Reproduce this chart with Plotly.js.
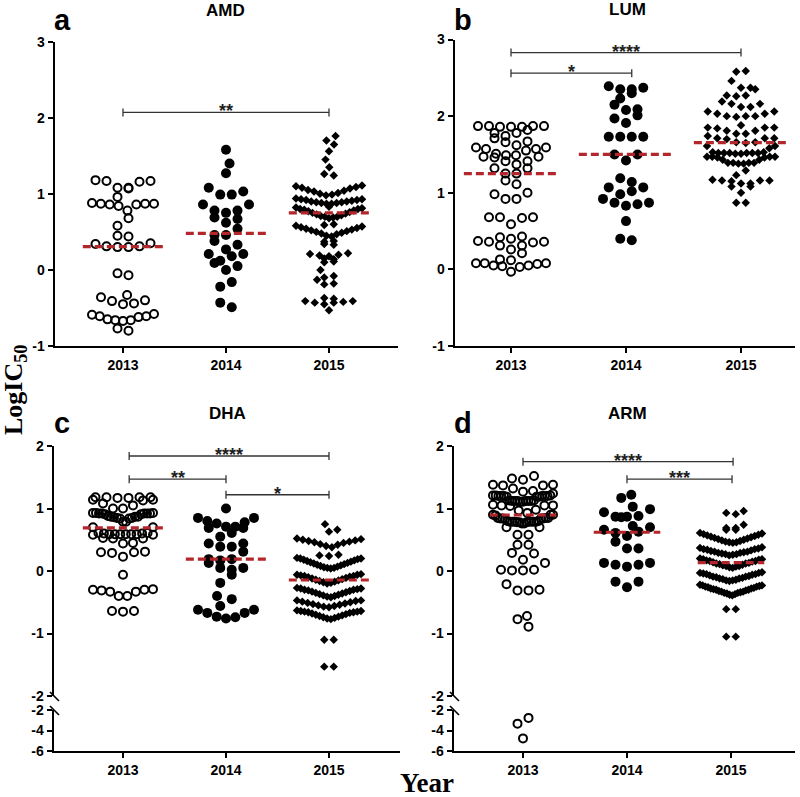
<!DOCTYPE html>
<html><head><meta charset="utf-8">
<script src="https://cdn.plot.ly/plotly-3.0.1.min.js"></script>
<style>html,body{margin:0;padding:0;background:#fff}#chart{width:800px;height:797px}</style>
</head><body><div id="chart"></div>
<script>
// ---------------- DATA ----------------
const years = ['2013','2014','2015'];
const panelTitles = ['AMD','LUM','DHA','ARM'];
const panelLetters = ['a','b','c','d'];
const yTicksTop = [-1,0,1,2,3];
const yTicksUpper = [-2,-1,0,1,2];
const yTicksLower = [-6,-4,-2];

const amd2013 = [1.17,1.18,1.17,1.16,1.08,1.07,1.08,0.96,0.87,0.86,0.87,0.88,0.87,0.86,0.84,0.78,0.68,0.58,0.45,0.44,0.35,0.34,0.31,0.30,0.30,0.31,-0.045,-0.07,-0.36,-0.33,-0.40,-0.41,-0.45,-0.44,-0.58,-0.59,-0.61,-0.62,-0.61,-0.66,-0.67,-0.66,-0.65,-0.77,-0.80];
const amd2014 = [1.58,1.40,1.27,1.08,0.99,0.99,1.03,0.86,0.86,0.78,0.78,0.75,0.69,0.67,0.62,0.54,0.46,0.46,0.38,0.33,0.27,0.21,0.21,0.18,0.12,0.09,0.05,0.00,-0.16,-0.22,-0.43,-0.49];
const amd2015 = [1.76,1.70,1.65,1.56,1.45,1.35,1.26,1.24,
 1.11,1.10,1.09,1.08,1.07,1.05,1.04,1.03,1.01,1.00,0.99,0.98,
 0.94,0.93,0.93,0.92,0.92,0.91,0.90,0.90,0.89,0.89,0.88,0.88,0.87,0.87,
 0.83,0.82,0.81,0.80,0.80,0.79,0.78,0.77,0.76,0.75,0.74,0.73,0.72,0.71,0.70,0.70,0.69,0.68,
 0.60,0.59,0.58,0.57,0.56,0.55,0.54,0.53,0.52,0.51,0.50,0.49,0.48,0.47,
 0.45,0.44,0.38,0.37,0.34,0.33,0.22,0.21,0.20,0.19,0.18,0.15,0.14,0.11,0.10,0.00,
 -0.08,-0.10,-0.13,-0.18,-0.19,-0.37,-0.38,-0.41,-0.41,-0.42,-0.43,-0.43,-0.45,-0.53];

const lum2013 = [1.87,1.87,1.86,1.86,1.87,1.86,1.87,1.82,1.78,1.78,1.74,1.71,1.67,1.66,1.62,1.59,1.59,1.57,1.57,1.55,1.51,1.49,1.49,1.47,1.47,1.46,1.41,1.41,1.37,1.32,1.32,1.25,1.25,1.16,1.11,1.00,0.98,0.92,0.92,0.68,0.68,0.68,0.67,0.59,0.43,0.42,0.40,0.37,0.36,0.36,0.35,0.31,0.31,0.26,0.21,0.13,0.12,0.08,0.08,0.07,0.08,0.05,0.04,0.05,0.03,-0.03];
const lum2014 = [2.39,2.37,2.35,2.35,2.30,2.23,2.15,2.09,2.08,2.01,1.97,1.91,1.73,1.73,1.73,1.73,1.50,1.50,1.42,1.19,1.14,1.07,1.07,1.02,0.98,0.92,0.87,0.87,0.85,0.83,0.63,0.40,0.38];
const lum2015 = [2.59,2.58,2.46,2.37,2.37,2.35,2.27,2.26,2.27,2.19,2.16,2.16,2.12,2.12,2.06,2.06,2.03,2.03,2.00,2.00,1.99,2.00,1.88,1.85,1.85,1.85,1.84,1.81,1.81,1.77,1.77,1.74,1.71,1.71,1.70,1.71,1.66,1.66,1.65,1.61,1.61,1.58,1.52,1.52,1.53,1.52,1.51,1.52,1.52,1.53,1.52,1.51,1.47,1.47,1.46,1.47,1.47,1.46,1.43,1.43,1.39,1.39,1.38,1.39,1.39,1.38,1.29,1.23,1.16,1.16,1.17,1.16,1.15,1.12,1.12,1.08,1.08,1.00,0.87,0.87];

const dha2013 = [1.18,1.18,1.17,1.18,1.17,1.18,1.14,1.14,1.13,1.08,1.05,1.00,1.00,
 0.93,0.92,0.92,0.91,0.92,0.93,0.92,0.91,0.92,0.93,
 0.87,0.87,0.88,0.87,0.86,
 0.84,0.84,0.85,0.85,0.79,0.79,0.70,0.70,0.61,0.61,
 0.59,0.59,0.58,0.59,0.60,0.59,0.58,0.59,0.60,0.59,
 0.52,0.52,0.53,0.45,0.44,0.30,0.29,0.30,0.31,0.23,-0.06,
 -0.30,-0.30,-0.29,-0.31,-0.33,-0.33,-0.40,-0.40,-0.64,-0.64,-0.65];
const dha2014 = [1.00,0.85,0.85,0.80,0.78,0.76,0.71,0.71,0.69,0.69,0.61,0.55,0.44,0.44,0.39,0.39,0.31,0.19,0.19,0.17,0.13,0.05,0.05,0.02,-0.06,-0.19,-0.40,-0.45,-0.56,-0.62,-0.62,-0.67,-0.67,-0.73,-0.74,-0.76];
const dha2015 = [0.75,0.66,0.63,
 0.52,0.51,0.50,0.49,0.48,0.47,0.46,0.45,0.43,0.42,0.40,0.38,
 0.26,0.25,0.24,
 0.21,0.20,0.20,0.19,0.18,0.17,0.16,0.15,0.14,0.13,0.12,0.11,0.10,0.09,0.08,0.07,0.06,0.05,0.05,0.04,
 -0.05,-0.06,-0.06,-0.07,-0.08,-0.08,-0.09,-0.10,-0.11,-0.12,-0.13,-0.14,-0.15,-0.16,-0.17,-0.18,-0.19,-0.20,
 -0.27,-0.28,-0.28,-0.29,-0.30,-0.30,-0.31,-0.32,-0.33,-0.34,-0.35,-0.36,-0.37,-0.38,-0.39,-0.40,-0.41,-0.42,
 -0.47,-0.47,-0.48,-0.49,-0.50,-0.51,-0.52,-0.53,-0.54,-0.55,-0.56,-0.57,-0.58,
 -0.63,-0.64,-0.64,-0.65,-0.65,-0.66,-0.66,-0.67,-0.68,-0.69,-0.70,-0.71,-0.72,-0.73,-0.74,-0.75,-0.76,-0.77,
 -1.10,-1.10,-1.53,-1.53];

const arm2013 = [1.52,1.48,1.46,1.38,1.37,1.37,1.38,1.32,1.28,1.27,1.24,
 1.21,1.20,1.20,1.19,1.20,1.21,1.20,1.19,1.20,1.21,1.20,1.19,
 1.13,1.12,1.12,1.11,1.12,1.13,1.12,1.11,1.12,1.12,
 1.05,1.05,1.04,1.06,1.05,0.98,0.97,0.93,
 0.90,0.90,0.89,0.90,
 0.85,0.84,0.84,0.85,0.84,0.83,0.84,0.85,
 0.79,0.79,0.78,0.79,0.80,0.79,0.78,0.79,0.80,0.79,0.78,0.79,
 0.76,0.76,0.70,0.70,0.58,0.58,0.42,0.42,0.29,0.28,0.18,0.13,
 0.02,0.01,0.01,0.02,-0.21,-0.31,-0.31,-0.30,-0.72,-0.77,-0.89,
 -2.77,-3.33,-4.77];
const arm2014 = [1.22,1.17,1.03,0.99,0.94,0.88,0.87,0.87,0.86,0.72,0.70,0.66,0.63,0.61,0.56,0.47,0.36,0.36,0.13,0.13,0.10,0.10,0.07,-0.17,-0.17,-0.26];
const arm2015 = [0.96,0.93,0.91,
 0.74,0.69,0.69,0.66,0.66,
 0.61,0.60,0.59,0.58,0.57,0.56,0.55,0.54,0.53,0.52,0.51,0.50,0.49,0.48,0.47,0.46,0.46,0.45,
 0.38,0.37,0.36,0.35,0.35,0.34,0.33,0.32,0.31,0.31,0.30,0.29,0.29,0.28,0.27,0.27,0.26,0.25,
 0.20,0.19,0.19,0.18,0.17,0.16,0.16,0.15,0.14,0.13,0.12,0.12,0.11,0.10,0.09,0.08,0.08,0.07,0.06,0.05,
 -0.02,-0.03,-0.03,-0.04,-0.05,-0.05,-0.06,-0.07,-0.08,-0.09,-0.09,-0.10,-0.11,-0.12,-0.12,-0.13,-0.14,-0.15,-0.15,-0.16,
 -0.22,-0.23,-0.23,-0.24,-0.25,-0.25,-0.26,-0.27,-0.28,-0.28,-0.29,-0.30,-0.30,-0.31,-0.32,-0.33,-0.33,-0.34,-0.35,-0.35,-0.36,-0.37,-0.38,-0.39,
 -0.61,-0.61,-1.05,-1.05];

// central lines
const centerAMD = [0.306,0.48,0.75];
const centerLUM = [1.25,1.50,1.655];
const centerDHA = [0.69,0.19,-0.144];
const centerARM = [0.896,0.62,0.133];

// significance brackets: [from, to, level, stars]
const sigAMD = [[0,2,2.07,'**']];
const sigLUM = [[0,2,2.83,'****'],[0,1.05,2.56,'*']];
const sigDHA = [[0.06,2,1.84,'****'],[0.06,1,1.47,'**'],[1,2,1.22,'*']];
const sigARM = [[0,2.02,1.75,'****'],[1,2.01,1.47,'***']];

// ---------------- LAYOUT GEOMETRY (pixels) ----------------
const W = 800, H = 797;
const X = p => p / W, Y = p => 1 - p / H;
const FONT = 'Liberation Sans, Arial, sans-serif';
const SERIF = 'Liberation Serif, Times New Roman, serif';
const RED = '#b3262b';
const INF = Infinity;

const panels = [
 {groups:[amd2013,amd2014,amd2015], center:centerAMD, sig:sigAMD, L:55, R:398, c0:123, s:103, top:41.7, bot:346, broken:false, hw:0.39,
  titlePos:[226,11], letterPos:[52,38], W:[31,25,33], rowH:[9,9,11], gap:[INF,INF,1.8]},
 {groups:[lum2013,lum2014,lum2015], center:centerLUM, sig:sigLUM, L:455, R:795, c0:511, s:115, top:39.5, bot:346, broken:false, hw:0.41,
  titlePos:[627,9], letterPos:[452,38], W:[35,27,34], rowH:[9,9,8], gap:[INF,INF,INF]},
 {groups:[dha2013,dha2014,dha2015], center:centerDHA, sig:sigDHA, L:54, R:400, c0:123, s:103, top:446, mid1:696, mid2:710, bot:751, broken:true, hw:0.39,
  titlePos:[227,413], letterPos:[52,441], W:[30,28,32], rowH:[9,9,13], gap:[INF,INF,1.8]},
 {groups:[arm2013,arm2014,arm2015], center:centerARM, sig:sigARM, L:454, R:795, c0:523, s:104, top:446, mid1:696, mid2:710, bot:751, broken:true, hw:0.32,
  titlePos:[627,413], letterPos:[452,441], W:[30,29,31], rowH:[9,9,13], gap:[INF,INF,1.8]},
];

const markerStyles = [
 {symbol:'circle-open', size:8, color:'#000', line:{width:2, color:'#000'}},
 {symbol:'circle', size:10, color:'#000', line:{width:0}},
 {symbol:'diamond', size:6.5, color:'#000', line:{width:0}},
];
const spacing = [11, 11.5, 9.5];   // px between neighbours in a row
const collide = [10, 10.5, 8.5];   // px diameter used to keep lone points apart

// GraphPad-like scatter: sorted values grouped into rows, spread from centre outwards;
// a row holding a single point is nudged sideways so it does not sit on its neighbours.
function swarm(vals, pyf, h, gap, D, C, Wmax) {
  const idx = vals.map((v,i)=>i).sort((a,b)=>vals[a]-vals[b]);
  const rows = []; let cur = null, prev = null;
  for (const i of idx) {
    const y = pyf(vals[i]);
    if (!cur || y - cur.y0 >= h || y - prev > gap) { cur = {y0:y, items:[]}; rows.push(cur); }
    cur.items.push(i); prev = y;
  }
  const out = new Array(vals.length);
  const placed = [];
  rows.forEach((r, ri) => {
    const m = r.items.length;
    if (m === 1) {
      const i = r.items[0], y = pyf(vals[i]);
      const near = placed.filter(p => Math.abs(p.y - y) < C);
      const cands = [0];
      near.forEach(p => { const dx = Math.sqrt(C*C - (p.y-y)*(p.y-y)); cands.push(p.x + dx, p.x - dx); });
      cands.sort((a,b) => Math.abs(a) - Math.abs(b));
      let best = 0;
      for (const c of cands) {
        if (Math.abs(c) > Wmax) continue;
        if (near.every(p => (p.x-c)*(p.x-c) + (p.y-y)*(p.y-y) >= C*C - 1e-6)) { best = c; break; }
      }
      out[i] = best; placed.push({x:best, y});
      return;
    }
    const d = Math.min(D, 2 * Wmax / (m - 1));
    const sgn = ri % 2 === 0 ? 1 : -1;
    r.items.forEach((i, j) => {
      let off;
      if (m % 2 === 1) { const k = Math.ceil(j / 2); off = j === 0 ? 0 : (j % 2 === 1 ? k : -k) * d; }
      else { const k = Math.floor(j / 2); off = (j % 2 === 0 ? 1 : -1) * (k + 0.5) * d; }
      out[i] = sgn * off; placed.push({x:out[i], y:pyf(vals[i])});
    });
  });
  return out;
}

const data = [], shapes = [], annotations = [];
const layout = {width:W, height:H, margin:{l:0,r:0,t:0,b:0}, showlegend:false,
  paper_bgcolor:'#fff', plot_bgcolor:'rgba(0,0,0,0)', font:{family:FONT, color:'#000'}};

const axBase = {showline:true, linecolor:'#000', linewidth:2.4, ticks:'outside', ticklen:5, tickwidth:2, tickcolor:'#000',
  showgrid:false, zeroline:false, fixedrange:true, tickfont:{family:FONT, size:14, color:'#000'}};

panels.forEach((P, k) => {
  const n = k + 1;
  const xa = n === 1 ? 'x' : 'x' + n;
  const yUp = n === 1 ? 'y' : 'y' + n;
  const yLo = 'y' + (n + 2);
  const xr = [(P.L - P.c0)/P.s, (P.R - P.c0)/P.s];
  layout['xaxis' + (n===1?'':n)] = Object.assign({}, axBase, {
    domain:[X(P.L), X(P.R)], range:xr, anchor: P.broken ? yLo : yUp,
    tickvals:[0,1,2], ticktext: years.map(t => '<b>' + t + '</b>')});
  let pxPerUnit, pyf;
  if (!P.broken) {
    layout['yaxis' + (n===1?'':n)] = Object.assign({}, axBase, {
      domain:[Y(P.bot), Y(P.top)], range:[-1,3], anchor:xa,
      tickvals:yTicksTop, ticktext:yTicksTop.map(v => '<b>' + String(v) + '</b>')});
    pxPerUnit = (P.bot - P.top)/4;
    pyf = v => v * pxPerUnit;
  } else {
    layout['yaxis' + n] = Object.assign({}, axBase, {
      domain:[Y(P.mid1), Y(P.top)], range:[-2,2], anchor:xa,
      tickvals:yTicksUpper, ticktext:yTicksUpper.map(v => '<b>' + String(v) + '</b>')});
    layout['yaxis' + (n+2)] = Object.assign({}, axBase, {
      domain:[Y(P.bot), Y(P.mid2)], range:[-6,-2], anchor:xa,
      tickvals:yTicksLower, ticktext:yTicksLower.map(v => '<b>' + String(v) + '</b>')});
    pxPerUnit = (P.mid1 - P.top)/4;
    const lowPx = (P.bot - P.mid2)/4;
    pyf = v => v >= -2 ? v * pxPerUnit : (-2*pxPerUnit - (P.mid2 - P.mid1) + (v + 2) * lowPx);
    // placeholder so the lower axis (and the shared x axis) is always drawn
    data.push({type:'scatter', mode:'markers', x:[1], y:[-100], xaxis:xa, yaxis:yLo, marker:{opacity:0}, hoverinfo:'skip'});
    // break marks
    [P.mid1 + 1, P.mid2 + 1].forEach(cy => {
      shapes.push({type:'line', xref:'paper', yref:'paper', x0:X(P.L - 4), y0:Y(cy - 5), x1:X(P.L + 5), y1:Y(cy + 4),
        line:{color:'#000', width:1.6}});
    });
  }
  // points
  P.groups.forEach((vals, g) => {
    const offs = swarm(vals, pyf, P.rowH[g], P.gap[g], spacing[g], collide[g], P.W[g]);
    const xs = offs.map(o => g + o / P.s);
    const up = vals.map((v,i)=>i).filter(i => !P.broken || vals[i] >= -2);
    const lo = vals.map((v,i)=>i).filter(i => P.broken && vals[i] < -2);
    data.push({type:'scatter', mode:'markers', x:up.map(i=>xs[i]), y:up.map(i=>vals[i]), xaxis:xa, yaxis:yUp, marker:markerStyles[g], hoverinfo:'y', cliponaxis:false});
    if (lo.length) data.push({type:'scatter', mode:'markers', x:lo.map(i=>xs[i]), y:lo.map(i=>vals[i]), xaxis:xa, yaxis:yLo, marker:markerStyles[g], hoverinfo:'y', cliponaxis:false});
    // centre line
    shapes.push({type:'line', xref:xa, yref:yUp, x0:g - P.hw, x1:g + P.hw, y0:P.center[g], y1:P.center[g],
      line:{color:RED, width:3.2, dash:'8px,4px'}});
  });
  // brackets
  const tk = 4 / pxPerUnit;
  P.sig.forEach(([a, b, lvl, stars]) => {
    const ln = {color:'#333', width:1.3};
    shapes.push({type:'line', xref:xa, yref:yUp, x0:a, x1:b, y0:lvl, y1:lvl, line:ln});
    shapes.push({type:'line', xref:xa, yref:yUp, x0:a, x1:a, y0:lvl + tk, y1:lvl - tk, line:ln});
    shapes.push({type:'line', xref:xa, yref:yUp, x0:b, x1:b, y0:lvl + tk, y1:lvl - tk, line:ln});
    annotations.push({xref:xa, yref:yUp, x:(a+b)/2, y:lvl, text:'<b>' + stars + '</b>', showarrow:false, xanchor:'center', yanchor:'bottom', yshift:-11,
      font:{family:FONT, size:18, color:'#222'}});
  });
  // titles & letters
  annotations.push({xref:'paper', yref:'paper', x:X(P.titlePos[0]), y:Y(P.titlePos[1]), text:'<b>' + panelTitles[k] + '</b>',
    showarrow:false, xanchor:'center', yanchor:'middle', font:{family:FONT, size:17, color:'#000'}});
  annotations.push({xref:'paper', yref:'paper', x:X(P.letterPos[0]), y:Y(P.letterPos[1]), text:'<b>' + panelLetters[k] + '</b>',
    showarrow:false, xanchor:'left', yanchor:'bottom', font:{family:FONT, size:29, color:'#000'}});
});

annotations.push({xref:'paper', yref:'paper', x:X(15), y:Y(390), text:'<b>LogIC<sub>50</sub></b>', textangle:-90,
  showarrow:false, xanchor:'center', yanchor:'middle', font:{family:SERIF, size:26, color:'#000'}});
annotations.push({xref:'paper', yref:'paper', x:X(427), y:Y(783), text:'<b>Year</b>',
  showarrow:false, xanchor:'center', yanchor:'middle', font:{family:SERIF, size:27, color:'#000'}});

layout.shapes = shapes;
layout.annotations = annotations;
Plotly.newPlot('chart', data, layout, {staticPlot:true, displayModeBar:false});
</script></body></html>
